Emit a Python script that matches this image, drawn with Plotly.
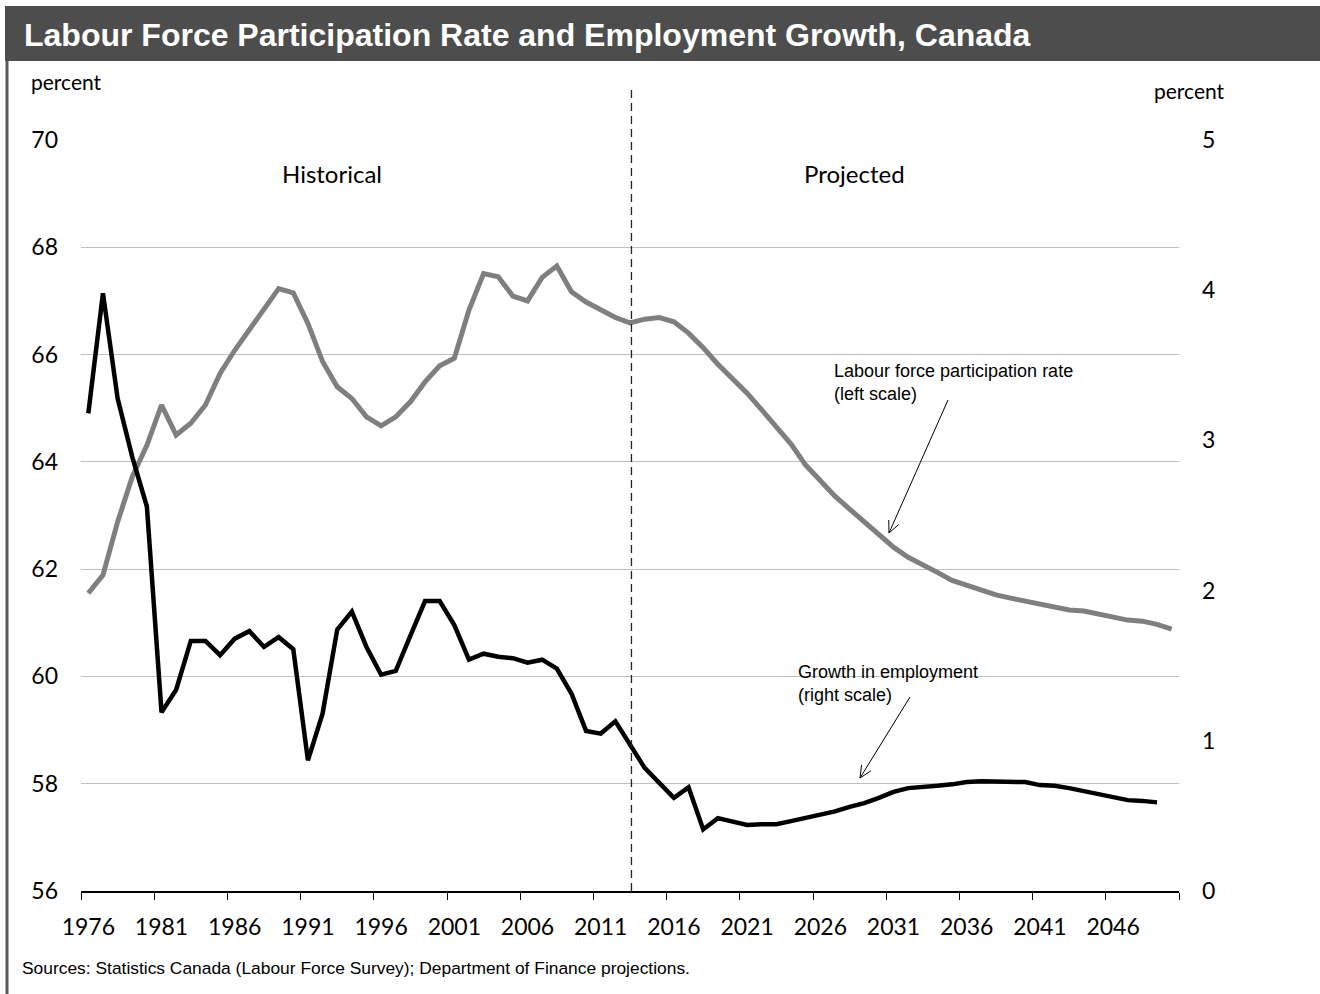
import math
import plotly.graph_objects as go

# ---------------- data ----------------
years = [str(y) for y in range(1976, 2051)]

participation_rate = [
    61.55, 61.89, 62.88, 63.72, 64.31, 65.06, 64.50, 64.72, 65.06, 65.65,
    66.08, 66.46, 66.86, 67.23, 67.15, 66.58, 65.87, 65.40, 65.18, 64.84,
    64.67, 64.84, 65.12, 65.49, 65.79, 65.93, 66.83, 67.51, 67.45, 67.09,
    67.00, 67.44, 67.65, 67.17, 66.98, 66.84, 66.69, 66.59, 66.66, 66.69,
    66.61, 66.40, 66.13, 65.82, 65.56, 65.28, 64.97, 64.65, 64.33, 63.94,
    63.64, 63.36, 63.12, 62.88, 62.63, 62.41, 62.22, 62.09, 61.94, 61.79,
    61.70, 61.61, 61.52, 61.46, 61.40, 61.35, 61.29, 61.24, 61.22, 61.16,
    61.11, 61.05, 61.03, 60.97, 60.88,
]

employment_growth = [
    3.18, 3.98, 3.28, 2.89, 2.56, 1.19, 1.34, 1.665, 1.665, 1.57,
    1.68, 1.73, 1.625, 1.69, 1.61, 0.87, 1.18, 1.74, 1.86, 1.625,
    1.44, 1.465, 1.70, 1.93, 1.93, 1.77, 1.54, 1.58, 1.56, 1.55,
    1.52, 1.54, 1.48, 1.315, 1.066, 1.048, 1.13, 0.97, 0.82, 0.72,
    0.62, 0.69, 0.41, 0.485, 0.46, 0.44, 0.445, 0.445, 0.465, 0.485,
    0.51, 0.53, 0.56, 0.585, 0.62, 0.66, 0.685, 0.69, 0.70, 0.71,
    0.725, 0.73, 0.73, 0.73, 0.725, 0.705, 0.70, 0.685, 0.665, 0.64,
    0.62, 0.605, 0.60, 0.59, None,
]

left_ticks = [56, 58, 60, 62, 64, 66, 68, 70]
right_ticks = [0, 1, 2, 3, 4, 5]
projection_start_index = 37.1  # category position of the historical/projected split

title_text = "Labour Force Participation Rate and Employment Growth, Canada"
source_text = "Sources: Statistics Canada (Labour Force Survey); Department of Finance projections."

# ---------------- layout geometry ----------------
W, H = 1320, 994
PX0, PX1 = 81, 1179
PY1, PY0 = 140, 891


def px(x):
    return (x - PX0) / (PX1 - PX0)


def py(y):
    return (PY0 - y) / (PY0 - PY1)


TICK_FONT = dict(family="Lato, Calibri, sans-serif", size=23, color="black")
ARIAL = "Liberation Sans, Arial, sans-serif"

fig = go.Figure()

fig.add_trace(go.Scatter(
    x=years, y=participation_rate, mode="lines", name="Labour force participation rate",
    line=dict(color="#7f7f7f", width=5), yaxis="y", hoverinfo="x+y",
))
fig.add_trace(go.Scatter(
    x=years, y=employment_growth, mode="lines", name="Growth in employment",
    line=dict(color="black", width=4.5), yaxis="y2", hoverinfo="x+y",
))

shapes = []
# title bar
shapes.append(dict(type="rect", xref="paper", yref="paper",
                   x0=px(5), x1=px(1320), y0=py(61), y1=py(6),
                   fillcolor="#4d4d4d", line=dict(width=0), layer="below"))
# left border line
shapes.append(dict(type="line", xref="paper", yref="paper",
                   x0=px(7), x1=px(7), y0=py(61), y1=py(994),
                   line=dict(color="#595959", width=3)))
# dashed projection separator
shapes.append(dict(type="line", xref="x", yref="paper",
                   x0=projection_start_index, x1=projection_start_index,
                   y0=0, y1=py(85),
                   line=dict(color="#222222", width=1.3, dash="8px,5px")))


def arrow(x_start, y_start, x_end, y_end, head=13, ang=25):
    out = [dict(type="line", xref="paper", yref="paper",
                x0=px(x_start), y0=py(y_start), x1=px(x_end), y1=py(y_end),
                line=dict(color="black", width=1))]
    theta = math.atan2(y_start - y_end, x_start - x_end)
    for s in (-1, 1):
        a = theta + s * math.radians(ang)
        hx = x_end + head * math.cos(a)
        hy = y_end + head * math.sin(a)
        out.append(dict(type="line", xref="paper", yref="paper",
                        x0=px(x_end), y0=py(y_end), x1=px(hx), y1=py(hy),
                        line=dict(color="black", width=1)))
    return out


shapes += arrow(948, 400, 889, 533)
shapes += arrow(910, 697, 860, 778)

annotations = [
    dict(xref="paper", yref="paper", x=px(22), y=py(35), xanchor="left", yanchor="middle",
         text="<b>" + title_text + "</b>", showarrow=False,
         font=dict(family=ARIAL, size=32, color="white")),
    dict(xref="paper", yref="paper", x=px(29), y=py(82), xanchor="left", yanchor="middle",
         text="percent", showarrow=False,
         font=dict(family="Lato, Calibri, sans-serif", size=21, color="black")),
    dict(xref="paper", yref="paper", x=px(1189), y=py(90), xanchor="center", yanchor="middle",
         text="percent", showarrow=False,
         font=dict(family="Lato, Calibri, sans-serif", size=21, color="black")),
    dict(xref="paper", yref="paper", x=px(332), y=py(173), xanchor="center", yanchor="middle",
         text="Historical", showarrow=False,
         font=dict(family="Lato, Calibri, sans-serif", size=24, color="black")),
    dict(xref="paper", yref="paper", x=px(854), y=py(173), xanchor="center", yanchor="middle",
         text="Projected", showarrow=False,
         font=dict(family="Lato, Calibri, sans-serif", size=24, color="black")),
    dict(xref="paper", yref="paper", x=px(832), y=py(382), xanchor="left", yanchor="middle",
         text="Labour force participation rate<br>(left scale)", showarrow=False, align="left",
         font=dict(family=ARIAL, size=18, color="black")),
    dict(xref="paper", yref="paper", x=px(796), y=py(683), xanchor="left", yanchor="middle",
         text="Growth in employment<br>(right scale)", showarrow=False, align="left",
         font=dict(family=ARIAL, size=18, color="black")),
    dict(xref="paper", yref="paper", x=px(20), y=py(968), xanchor="left", yanchor="middle",
         text=source_text, showarrow=False,
         font=dict(family=ARIAL, size=17.4, color="black")),
]

fig.update_layout(
    width=W, height=H,
    margin=dict(l=PX0, r=W - PX1, t=PY1, b=H - PY0, pad=0),
    paper_bgcolor="white", plot_bgcolor="white",
    showlegend=False,
    shapes=shapes,
    annotations=annotations,
    xaxis=dict(
        type="category", tickmode="linear", tick0=0, dtick=5, tickson="boundaries",
        range=[-0.5, len(years) - 0.5], tickangle=0,
        ticks="outside", ticklen=7, tickwidth=1.3, tickcolor="black",
        showline=True, linecolor="black", linewidth=1.8,
        showgrid=False, zeroline=False,
        tickfont=TICK_FONT, ticklabelstandoff=14,
    ),
    yaxis=dict(
        range=[56, 70], tickvals=left_ticks, ticktext=[str(v) for v in left_ticks],
        showgrid=True, gridcolor="#c0c0c0", gridwidth=1.3,
        showline=False, zeroline=False, ticks="",
        tickfont=TICK_FONT, ticklabelstandoff=22,
    ),
    yaxis2=dict(
        range=[0, 5], tickvals=right_ticks, ticktext=[str(v) for v in right_ticks],
        overlaying="y", side="right",
        showgrid=False, showline=False, zeroline=False, ticks="",
        tickfont=TICK_FONT, ticklabelstandoff=22,
    ),
)

fig.write_html("out.html", config={"displayModeBar": False},
               post_script="document.body.style.margin='0';")
